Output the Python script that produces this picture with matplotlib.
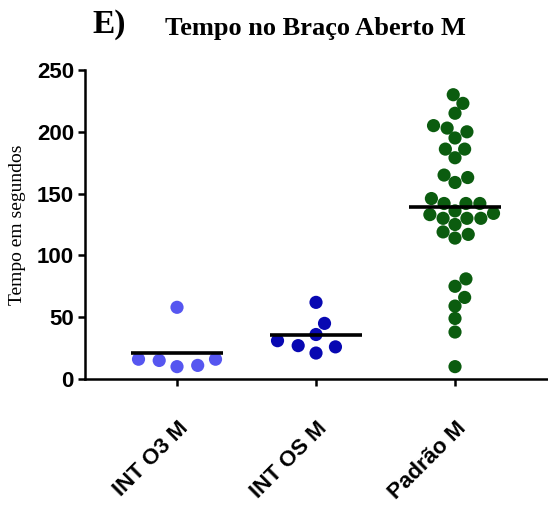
import numpy as np
import matplotlib
matplotlib.use("Agg")
import matplotlib.pyplot as plt
import matplotlib.transforms as mtransforms

# Datos (tiempo en segundos)
grupos = ["INT O3 M", "INT OS M", "Padrão M"]
int_o3 = [58, 16, 15, 16, 11, 10]
int_os = [62, 45, 36, 31, 21, 26, 27]
padrao = [230, 223, 215, 205, 203, 200, 195, 186, 186, 179, 165, 163, 159,
          146, 142, 136, 142, 142, 134, 133, 130, 130, 130, 125, 119, 114, 117,
          81, 75, 66, 59, 49, 38, 10]
valores = [int_o3, int_os, padrao]
colores = ["#5656F0", "#0808B2", "#0B5C0F"]
yticks = [0, 50, 100, 150, 200, 250]


# Desplazamientos tipo "beeswarm" en píxeles para que los puntos no se encimen
def desplazamientos_swarm(y_px, d):
    n = len(y_px)
    xs = np.zeros(n)
    colocados = []
    for i in np.argsort(y_px):
        y = y_px[i]
        candidatos = [0.0]
        for xj, yj in colocados:
            dy = y - yj
            if abs(dy) < d:
                dx = np.sqrt(d * d - dy * dy)
                candidatos += [xj + dx, xj - dx]
        candidatos.sort(key=abs)
        for c in candidatos:
            if all((c - xj) ** 2 + (y - yj) ** 2 >= d * d - 1e-6 for xj, yj in colocados):
                xs[i] = c
                break
        colocados.append((xs[i], y))
    return xs


fig = plt.figure(figsize=(5.48, 5.08), dpi=100)
ax = fig.add_axes([85 / 548, 129 / 508, 463 / 548, 309 / 508])
ax.set_xlim(-0.662, 2.669)
ax.set_ylim(0, 250)

# Conversión datos -> píxeles
px_por_x = ax.transData.transform((1, 0))[0] - ax.transData.transform((0, 0))[0]
ancho_max = 38.5  # semi-ancho de cada nube de puntos, en píxeles

for k, (vals, col) in enumerate(zip(valores, colores)):
    vals = np.array(vals, dtype=float)
    y_px = ax.transData.transform(np.column_stack([np.zeros(len(vals)), vals]))[:, 1]
    off = desplazamientos_swarm(y_px, 12.0)
    if np.abs(off).max() > 0:
        off = off * ancho_max / np.abs(off).max()
    ax.scatter(k + off / px_por_x, vals, s=90, color=col, edgecolors="none", zorder=3,
               clip_on=False)
    media = vals.mean()
    ax.plot([k - 0.33, k + 0.33], [media, media], color="black", lw=2.6, zorder=4,
            solid_capstyle="butt")

for lado in ["top", "right"]:
    ax.spines[lado].set_visible(False)
for lado in ["left", "bottom"]:
    ax.spines[lado].set_linewidth(1.8)

ax.set_yticks(yticks)
ax.set_yticklabels([str(v) for v in yticks], fontfamily="Liberation Sans",
                   fontweight="bold", fontsize=16)
ax.set_xticks(range(len(grupos)))
ax.set_xticklabels(grupos, rotation=45, ha="right", va="center", rotation_mode="anchor",
                   fontfamily="Liberation Sans", fontweight="bold", fontsize=16)
ax.tick_params(axis="both", length=5, width=1.8, direction="out")
ax.tick_params(axis="y", pad=3)
ax.tick_params(axis="x", pad=28)
desplazamiento = mtransforms.ScaledTranslation(6 / 72, 0, fig.dpi_scale_trans)
for etiqueta in ax.get_xticklabels():
    etiqueta.set_transform(etiqueta.get_transform() + desplazamiento)

ax.set_ylabel("Tempo em segundos", fontfamily="Liberation Serif", fontsize=14)
ax.yaxis.set_label_coords(-0.127, 0.5)

fig.text(315 / 548, 1 - 28 / 508, "Tempo no Braço Aberto M", ha="center", va="center",
         fontfamily="Liberation Serif", fontweight="bold", fontsize=19)
fig.text(92 / 548, 1 - 25 / 508, "E)", ha="left", va="center",
         fontfamily="Liberation Serif", fontweight="bold", fontsize=24)

fig.savefig("out.png", dpi=100)
